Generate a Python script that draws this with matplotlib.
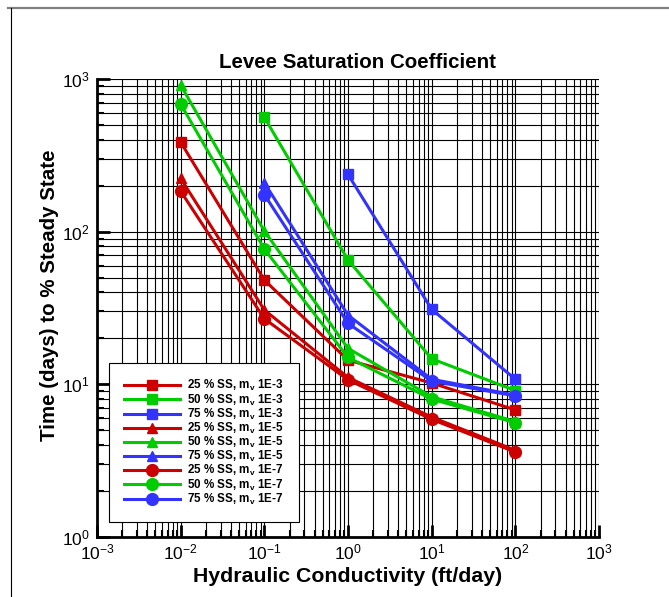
import matplotlib
matplotlib.use('Agg')
import matplotlib.pyplot as plt
from matplotlib.lines import Line2D
import numpy as np

plt.rcParams['font.family'] = ['Liberation Sans', 'DejaVu Sans']
plt.rcParams['mathtext.default'] = 'regular'

# hydraulic conductivity (ft/day)
k = [0.01, 0.1, 1, 10, 100]

# time (days) to reach % steady state, per mv
ss25_mv3 = [386, 48.2, 14.4, 10.2, 6.8]
ss50_mv3 = [np.nan, 561, 65.2, 14.7, 9.1]
ss75_mv3 = [np.nan, np.nan, 237, 31.0, 10.8]
ss25_mv5 = [223, 30.7, 11.1, 6.1, 3.7]
ss50_mv5 = [912, 101, 17.2, 8.3, 5.7]
ss75_mv5 = [np.nan, 209, 28.4, 10.8, 8.5]
ss25_mv7 = [184, 26.9, 10.7, 5.9, 3.6]
ss50_mv7 = [685, 76.9, 15.0, 8.0, 5.6]
ss75_mv7 = [np.nan, 175, 25.1, 10.5, 8.4]

labels = ['25 % SS, m$_{v}$ 1E-3', '50 % SS, m$_{v}$ 1E-3', '75 % SS, m$_{v}$ 1E-3',
          '25 % SS, m$_{v}$ 1E-5', '50 % SS, m$_{v}$ 1E-5', '75 % SS, m$_{v}$ 1E-5',
          '25 % SS, m$_{v}$ 1E-7', '50 % SS, m$_{v}$ 1E-7', '75 % SS, m$_{v}$ 1E-7']
series = [ss25_mv3, ss50_mv3, ss75_mv3, ss25_mv5, ss50_mv5, ss75_mv5,
          ss25_mv7, ss50_mv7, ss75_mv7]

red, green, blue = '#CC0000', '#00CC00', '#3333FF'
colors = [red, green, blue] * 3
markers = ['s'] * 3 + ['^'] * 3 + ['o'] * 3
msizes = [7] * 3 + [7.5] * 3 + [8.5] * 3

fig = plt.figure(figsize=(6.69, 5.97), dpi=100)
ax = fig.add_axes([97 / 669, 1 - 537 / 597, 502 / 669, 458 / 597])

for y, lab, c, m, ms in zip(series, labels, colors, markers, msizes):
    ax.plot(k, y, color=c, marker=m, markersize=ms, linewidth=2.2, label=lab)

ax.set_xscale('log')
ax.set_yscale('log')
ax.set_xlim(1e-3, 1e3)
ax.set_ylim(1, 1e3)

ax.grid(True, which='both', color='black', linewidth=0.8)
ax.set_axisbelow(True)
for s in ['top', 'right']:
    ax.spines[s].set_visible(False)
for s in ['left', 'bottom']:
    ax.spines[s].set_linewidth(2)

ax.tick_params(which='major', direction='in', length=9, width=2, labelsize=12.5)
ax.tick_params(axis='x', which='major', pad=4)
ax.tick_params(axis='y', which='major', pad=5)
ax.tick_params(which='minor', direction='in', length=5, width=1.5)

ax.set_title('Levee Saturation Coefficient', fontsize=14.8, fontweight='bold', pad=8, x=0.518)
ax.set_xlabel('Hydraulic Conductivity (ft/day)', fontsize=15.3, fontweight='bold', labelpad=3)
ax.set_ylabel('Time (days) to % Steady State', fontsize=14.8, fontweight='bold')
ax.yaxis.set_label_coords(-0.075, 0.528)

leg = ax.legend(loc='lower left', bbox_to_anchor=(0.024, 0.033), borderaxespad=0,
                fancybox=False, framealpha=1, edgecolor='black',
                prop={'weight': 'bold', 'size': 8.4}, handlelength=4.8,
                labelspacing=-0.08, borderpad=1.3, handletextpad=0.6)
leg.get_frame().set_linewidth(0.8)

# outer frame lines along the top and left edges
fig.add_artist(Line2D([8 / 669, 1], [1 - 7.5 / 597, 1 - 7.5 / 597], color='#808080', linewidth=1.6))
fig.add_artist(Line2D([11 / 669, 11 / 669], [0, 1 - 7.5 / 597], color='black', linewidth=0.8))

fig.savefig('out.png', dpi=100)
